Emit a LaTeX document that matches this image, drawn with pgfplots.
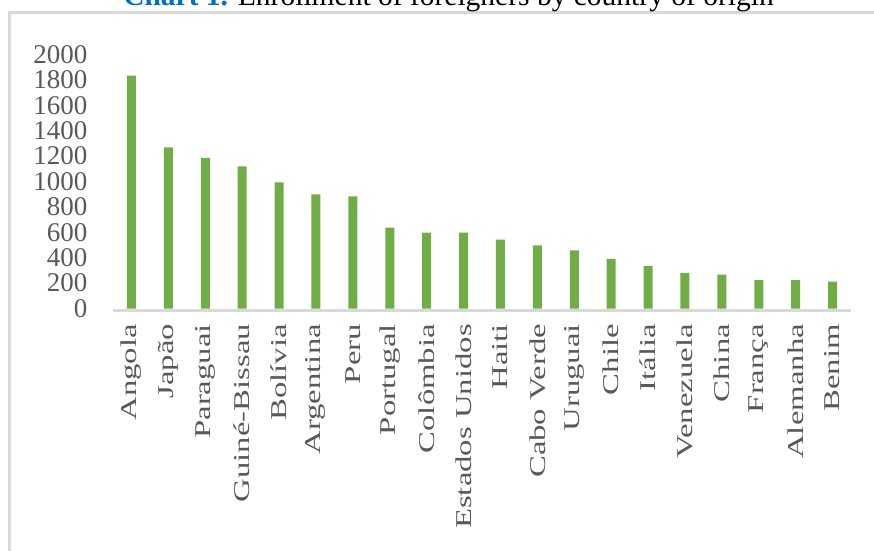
\documentclass[border=0pt]{standalone}
\usepackage{fontspec}
\setmainfont{Liberation Serif}
\usepackage{graphicx}
\usepackage{pgfplots}
\pgfplotsset{compat=1.18}
\definecolor{bargreen}{HTML}{70AD47}
\definecolor{framegray}{HTML}{D9D9D9}
\definecolor{tickgray}{HTML}{595959}
\definecolor{titleblue}{HTML}{0070C0}
\newcommand\xl[1]{\scalebox{1.45}[1]{#1}}
\begin{document}
\begin{tikzpicture}[x=1pt,y=1pt]
\useasboundingbox (-113,-241.5) rectangle (761,308.5);
\clip (-113,-241.5) rectangle (761,308.5);
\draw[framegray, line width=2.6pt] (-103.3,-260) -- (-103.3,296.2) -- (800,296.2);
\node[anchor=base, font=\fontsize{29.5}{30}\selectfont] at (335.5,303) {\textcolor{titleblue}{\textbf{Chart 1.}} Enrollment of foreigners by country of origin};
\begin{axis}[
  at={(0,0)}, anchor=south west, scale only axis,
  width=738pt, height=254pt,
  xmin=-0.5, xmax=19.5, ymin=0, ymax=2000,
  axis lines*=left,
  y axis line style={draw=none},
  x axis line style={framegray, line width=3pt, yshift=-1.5pt},
  major tick length=0pt,
  ytick={0,200,...,2000},
  xtick={0,...,19},
  xticklabels={\xl{Angola},\xl{Japão},\xl{Paraguai},\xl{Guiné-Bissau},\xl{Bolívia},\xl{Argentina},\xl{Peru},\xl{Portugal},\xl{Colômbia},\xl{Estados Unidos},\xl{Haiti},\xl{Cabo Verde},\xl{Uruguai},\xl{Chile},\xl{Itália},\xl{Venezuela},\xl{China},\xl{França},\xl{Alemanha},\xl{Benim}},
  /pgf/number format/assume math mode=true,
  /pgf/number format/1000 sep={},
  yticklabel style={font=\fontsize{27}{27}\selectfont, text=tickgray, anchor=east},
  yticklabel shift=22pt,
  xticklabel style={font=\fontsize{22.6}{22.6}\selectfont, text=tickgray, rotate=90, anchor=east},
  xticklabel shift=12pt,
]
\addplot[ybar, bar width=9pt, fill=bargreen, draw=none] coordinates {
(0,1833) (1,1269) (2,1187) (3,1120) (4,994) (5,899) (6,883) (7,636) (8,597) (9,597)
(10,542) (11,498) (12,458) (13,390) (14,335) (15,280) (16,266) (17,224) (18,224) (19,211)
};
\end{axis}
\end{tikzpicture}
\end{document}
